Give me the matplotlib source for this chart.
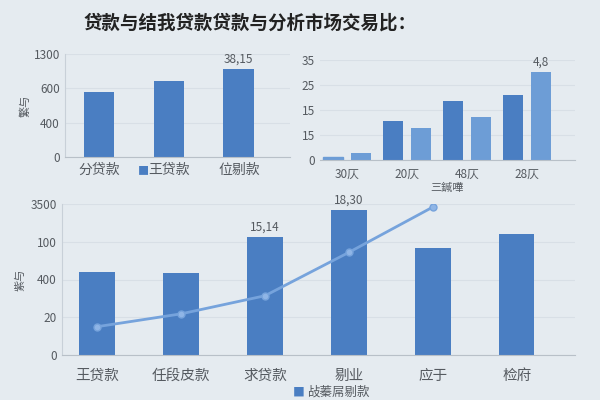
import numpy as np
import matplotlib.pyplot as plt

plt.rcParams['font.family'] = ['Noto Sans CJK SC', 'DejaVu Sans']

# 数据
title = '贷款与结我贷款贷款与分析市场交易比：'

tl_cats = ['分贷款', '王贷款', '位剔款']
tl_vals = [1.9, 2.2, 2.57]
tl_ticks = ['0', '400', '600', '1300']

tr_cats = ['30仄', '20仄', '48仄', '28仄']
tr_dark = [0.12, 1.56, 2.36, 2.6]
tr_light = [0.28, 1.28, 1.72, 3.52]
tr_ticks = ['0', '15', '15', '25', '35']

bt_cats = ['王贷款', '任段皮款', '求贷款', '剔业', '应于', '检府']
bt_vals = [2.21, 2.16, 3.12, 3.84, 2.83, 3.2]
bt_line = [0.75, 1.09, 1.57, 2.72, 3.92]
bt_ticks = ['0', '20', '400', '100', '3500']

bg = '#e5ebf0'
dark = '#4a7ec2'
light = '#6d9dd6'
linec = '#76a3dc'
txt = '#555a60'

fig = plt.figure(figsize=(6, 4), dpi=100, facecolor=bg)
fig.text(0.417, 0.943, title, ha='center', va='center', fontsize=13.3, fontweight='bold', color='#222')


def style(ax):
    ax.set_facecolor(bg)
    for s in ['top', 'right']:
        ax.spines[s].set_visible(False)
    ax.spines['bottom'].set_color('#b8c0c8')
    ax.spines['left'].set_color('#c8d0d8')
    ax.tick_params(length=0, colors=txt, labelsize=8.5)
    ax.yaxis.grid(True, color='#d8dfe6', lw=0.8)
    ax.set_axisbelow(True)


# 左上
ax1 = fig.add_axes([0.108, 0.6075, 0.375, 0.2575])
style(ax1)
x1 = np.arange(len(tl_cats))
ax1.bar(x1, tl_vals, width=0.44, color=dark)
ax1.set_xlim(-0.49, 2.73)
ax1.set_ylim(0, 3)
ax1.set_yticks(range(4))
ax1.set_yticklabels(tl_ticks)
ax1.set_xticks(x1)
ax1.set_xticklabels(tl_cats, fontsize=10)
ax1.tick_params(axis='x', pad=4)
ax1.set_ylabel('繁与', fontsize=8, color=txt, labelpad=2)
ax1.text(x1[2], tl_vals[2] + 0.1, '38,15', ha='center', va='bottom', fontsize=8.5, color=txt)
fig.text(143 / 600, 1 - 171 / 400, '■', color=dark, fontsize=8, ha='center', va='center')

# 右上
ax2 = fig.add_axes([0.533, 0.6, 0.425, 0.25])
style(ax2)
ax2.spines['left'].set_visible(False)
x2 = np.arange(len(tr_cats))
ax2.bar(x2 - 0.235, tr_dark, width=0.33, color=dark)
ax2.bar(x2 + 0.235, tr_light, width=0.33, color=light)
ax2.patches[0].set_color(light)
ax2.set_xlim(-0.45, 3.8)
ax2.set_ylim(0, 4)
ax2.set_yticks(range(5))
ax2.set_yticklabels(tr_ticks)
ax2.set_xticks(x2)
ax2.set_xticklabels(tr_cats, fontsize=8.5)
ax2.tick_params(axis='x', pad=6)
ax2.set_xlabel('三鍼嘩', fontsize=8, color=txt, labelpad=1)
ax2.text(x2[3] + 0.235, tr_light[3] + 0.12, '4,8', ha='center', va='bottom', fontsize=8.5, color=txt)

# 下
ax3 = fig.add_axes([0.103, 0.1125, 0.855, 0.3775])
style(ax3)
x3 = np.arange(len(bt_cats))
ax3.bar(x3, bt_vals, width=0.42, color=dark)
ax3.plot(x3[:len(bt_line)], bt_line, color=linec, lw=2, marker='o', ms=5,
         markerfacecolor='#8fb5e6', markeredgecolor=linec)
ax3.set_xlim(-0.42, 5.69)
ax3.set_ylim(0, 4)
ax3.set_yticks(range(5))
ax3.set_yticklabels(bt_ticks)
ax3.set_xticks(x3)
ax3.set_xticklabels(bt_cats, fontsize=10.5)
ax3.tick_params(axis='x', pad=10)
ax3.set_ylabel('紫与', fontsize=8, color=txt, labelpad=4)
ax3.text(x3[2], bt_vals[2] + 0.1, '15,14', ha='center', va='bottom', fontsize=8.5, color=txt)
ax3.text(x3[3], bt_vals[3] + 0.1, '18,30', ha='center', va='bottom', fontsize=8.5, color=txt)
fig.text(293 / 600, 1 - 392.5 / 400, '■', color=dark, fontsize=8.5, ha='left', va='center')
fig.text(307 / 600, 1 - 392.5 / 400, '敁蓁屌剔款', color=txt, fontsize=9, ha='left', va='center')

fig.savefig('out.png', dpi=100, facecolor=bg)
